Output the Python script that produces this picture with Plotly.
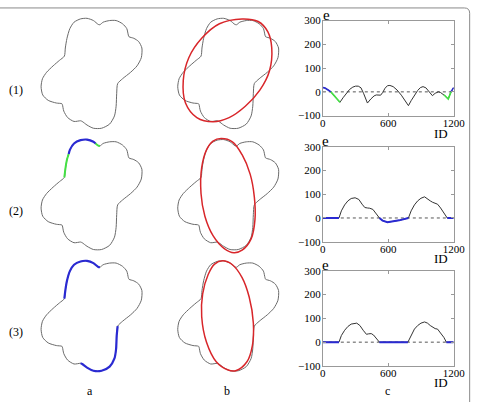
import plotly.graph_objects as go

W, H = 487, 402
FONT = "Liberation Serif"

# ---- blob outline (local panel units, y downward) ----
blob_x = [63.3, 64.3, 66, 69, 73.3, 80, 86.7, 93.3, 98.3, 100,
          103.3, 110, 116.7, 123.3, 127.7, 129.3, 130,
          135, 140, 143.3, 142.7, 138.3, 131.7, 123.3, 118.3,
          117.3, 116.7, 115, 110, 101.7, 93.3, 86.7, 81.7, 80,
          73.3, 66.7, 62.7, 61.3, 60.7,
          55, 46.7, 41, 39.3, 40.7, 45, 51.7, 58.3, 63.3]
blob_y = [51.7, 43.3, 33.3, 23.3, 16.7, 13.3, 12.7, 15, 19, 19.3,
          16.7, 15, 15, 18.3, 23.3, 30, 31.7,
          33.3, 36.7, 43.3, 53.3, 61.7, 68.3, 75, 80,
          90, 103.3, 113.3, 121.7, 126, 126, 122.7, 119, 118.3,
          119, 115, 108.3, 101.7, 100.7,
          100, 97.3, 91.7, 83.3, 75, 68.3, 61.7, 56, 51.7]

# row 2 highlighted pieces
r2_green1_x = [63.3, 64.3, 66, 67.8]
r2_green1_y = [51.7, 43.3, 33.3, 27.5]
r2_blue_x = [67.8, 69, 73.3, 80, 86.7, 93.3, 95.5]
r2_blue_y = [27.5, 23.3, 16.7, 13.3, 12.7, 15, 16.8]
r2_green2_x = [95.5, 98.3, 100]
r2_green2_y = [16.8, 19, 19.3]
# row 3 highlighted pieces
r3_blue1_x, r3_blue1_y = blob_x[0:10], blob_y[0:10]
r3_blue2_x, r3_blue2_y = blob_x[24:34], blob_y[24:34]

# ---- fitted ellipses (local panel units) ----
ell1_x = [105.7, 122.3, 132.3, 136.3, 134, 124, 109, 92.3, 75.7, 59, 47.3, 45, 50.7, 64, 82.3, 105.7]
ell1_y = [13.3, 16, 26.7, 43.3, 66.7, 86.7, 103.3, 115, 119.3, 115, 100, 76.7, 53.3, 33.3, 18.3, 13.3]
ell2_x = [84, 95.7, 105.7, 114, 118.3, 119, 115, 105.7, 97.3, 87.3, 75.7, 67.3, 63.3, 64, 69, 75.7, 84]
ell2_y = [11.7, 15, 28.3, 48.3, 71.7, 95, 115, 126.7, 129.3, 125, 111.7, 91.7, 68.3, 41.7, 23.3, 14.3, 11.7]
ell3_x = [85.7, 95.7, 105.7, 113, 117.3, 116.3, 110.7, 99, 90.7, 79, 69, 64, 65, 70.7, 77.3, 85.7]
ell3_y = [12.7, 16.7, 30, 50, 76.7, 100, 116.7, 126, 125, 116.7, 96.7, 70, 46.7, 26.7, 16, 12.7]

# ---- error curves e(ID) ----
e1_id = [0, 20, 45, 74, 110, 157, 185, 215, 245, 275, 300, 325, 350, 375, 409, 440, 470, 490, 515, 530,
         550, 570, 593, 615, 645, 680, 720, 755, 785, 810, 840, 870, 895, 919, 945, 975, 1005, 1030,
         1060, 1080, 1110, 1130, 1150, 1175, 1200]
e1_val = [18, 16, 9, 0, -20, -44, -25, -5, 10, 20, 24, 24, 17, -8, -47, -30, -17, -13, -12, -14,
          -2, 15, 26, 27, 22, 8, -14, -38, -58, -37, -14, 6, 18, 22, 17, 2, -16, -6,
          0, -3, -12, -20, -30, 0, 18]
e1_blue1_id, e1_blue1_val = [0, 20, 45, 74], [18, 16, 9, 0]
e1_green1_id, e1_green1_val = [74, 110, 157], [0, -20, -44]
e1_green2_id, e1_green2_val = [1110, 1130, 1150, 1175], [-12, -20, -30, 0]
e1_blue2_id, e1_blue2_val = [1175, 1200], [0, 18]

e2_id = [0, 148, 170, 200, 230, 260, 296, 330, 360, 385, 410, 430, 459, 480, 500, 519, 548, 593,
         700, 785, 810, 840, 870, 900, 933, 960, 985, 1007, 1030, 1052, 1080, 1110, 1141, 1200]
e2_val = [0, 0, 30, 55, 72, 82, 85, 78, 58, 44, 42, 41, 36, 22, 10, 0, -11, -18,
          -10, 0, 30, 55, 72, 83, 89, 82, 72, 66, 63, 58, 42, 22, 0, 0]
e2_blue1_id, e2_blue1_val = [0, 148], [0, 0]
e2_blue2_id, e2_blue2_val = [519, 548, 593, 700, 785], [0, -11, -18, -10, 0]
e2_blue3_id, e2_blue3_val = [1141, 1200], [0, 0]

e3_id = [0, 148, 170, 200, 230, 260, 311, 340, 370, 400, 420, 444, 465, 490, 519, 780, 810, 840,
         870, 900, 933, 960, 985, 1007, 1030, 1052, 1080, 1110, 1133, 1200]
e3_val = [0, 0, 28, 50, 66, 76, 80, 70, 50, 33, 35, 36, 30, 15, 0, 0, 30, 55,
          70, 80, 85, 80, 70, 63, 57, 55, 40, 20, 0, 0]
e3_blue1_id, e3_blue1_val = [0, 148], [0, 0]
e3_blue2_id, e3_blue2_val = [519, 780], [0, 0]
e3_blue3_id, e3_blue3_val = [1133, 1200], [0, 0]

x_ticks = [0, 600, 1200]
y_ticks = [-100, 0, 100, 200, 300]
row_labels = ["(1)", "(2)", "(3)"]
col_labels = ["a", "b", "c"]

GRAY = "#6a6a6a"
BLUE = "#2a2ad2"
GREEN = "#44e044"
RED = "#d8262a"
DARK = "#333333"

fig = go.Figure()


def add(x, y, ax, color, width, shape="linear", smoothing=None):
    line = dict(color=color, width=width, shape=shape)
    if smoothing is not None:
        line["smoothing"] = smoothing
    fig.add_trace(go.Scatter(x=x, y=y, mode="lines", line=line,
                             xaxis="x" + ax, yaxis="y" + ax,
                             hoverinfo="skip", showlegend=False))


def pid(r, c):
    n = 3 * r + c + 1
    return "" if n == 1 else str(n)


for r in range(3):
    for c in range(2):
        add(blob_x, blob_y, pid(r, c), GRAY, 1, "spline", 0.7)

add(r2_green1_x, r2_green1_y, pid(1, 0), GREEN, 2, "spline", 0.7)
add(r2_blue_x, r2_blue_y, pid(1, 0), BLUE, 2.2, "spline", 0.7)
add(r2_green2_x, r2_green2_y, pid(1, 0), GREEN, 2, "spline", 0.7)
add(r3_blue1_x, r3_blue1_y, pid(2, 0), BLUE, 2.2, "spline", 0.7)
add(r3_blue2_x, r3_blue2_y, pid(2, 0), BLUE, 2.2, "spline", 0.7)

add(ell1_x, ell1_y, pid(0, 1), RED, 1.5, "spline", 1.0)
add(ell2_x, ell2_y, pid(1, 1), RED, 1.5, "spline", 1.0)
add(ell3_x, ell3_y, pid(2, 1), RED, 1.5, "spline", 1.0)

add(e1_id, e1_val, pid(0, 2), DARK, 1)
add(e1_blue1_id, e1_blue1_val, pid(0, 2), BLUE, 1.6)
add(e1_green1_id, e1_green1_val, pid(0, 2), GREEN, 1.6)
add(e1_green2_id, e1_green2_val, pid(0, 2), GREEN, 1.6)
add(e1_blue2_id, e1_blue2_val, pid(0, 2), BLUE, 1.6)

add(e2_id, e2_val, pid(1, 2), DARK, 1)
for xs, ys in [(e2_blue1_id, e2_blue1_val), (e2_blue2_id, e2_blue2_val), (e2_blue3_id, e2_blue3_val)]:
    add(xs, ys, pid(1, 2), BLUE, 2)

add(e3_id, e3_val, pid(2, 2), DARK, 1)
for xs, ys in [(e3_blue1_id, e3_blue1_val), (e3_blue2_id, e3_blue2_val), (e3_blue3_id, e3_blue3_val)]:
    add(xs, ys, pid(2, 2), BLUE, 2)


def dom_x(p0, p1):
    return [p0 / W, p1 / W]


def dom_y(p0, p1):
    return [1 - p1 / H, 1 - p0 / H]


layout = dict(width=W, height=H, margin=dict(l=0, r=0, t=0, b=0),
              paper_bgcolor="white", plot_bgcolor="rgba(0,0,0,0)",
              showlegend=False, font=dict(family=FONT, color="black"))

row_top = [0, 125, 250]
col_left = [0, 141]
box_rows = [(15, 113), (145, 243), (273, 371)]

for r in range(3):
    for c in range(2):
        n = pid(r, c)
        layout["xaxis" + n] = dict(domain=dom_x(col_left[c], col_left[c] + 150), range=[0, 150],
                                   visible=False, fixedrange=True, anchor="y" + n)
        layout["yaxis" + n] = dict(domain=dom_y(row_top[r], row_top[r] + 132), range=[132, 0],
                                   visible=False, fixedrange=True, anchor="x" + n)
    n = pid(r, 2)
    axstyle = dict(showline=True, mirror="ticks", linecolor="#999999", linewidth=1,
                   ticks="inside", ticklen=3, tickcolor="#999999", showgrid=False,
                   zeroline=False, fixedrange=True, tickfont=dict(family=FONT, size=11, color="black"))
    layout["xaxis" + n] = dict(domain=dom_x(330, 465), range=[0, 1200], tickvals=x_ticks,
                               anchor="y" + n, ticklabelstandoff=-3, **axstyle)
    layout["yaxis" + n] = dict(domain=dom_y(*box_rows[r]), range=[-100, 300], tickvals=y_ticks,
                               anchor="x" + n, ticklabelstandoff=-1, **axstyle)

fig.update_layout(**layout)

for r in range(3):
    n = pid(r, 2)
    fig.add_shape(type="line", xref="x" + n, yref="y" + n, x0=0, x1=1200, y0=0, y1=0,
                  line=dict(color="#555555", width=1, dash="dot"), layer="below")

fig.add_shape(type="path", xref="paper", yref="paper",
              path=f"M {-0.02},{1 - 2 / H} L {476 / W},{1 - 2 / H} Q {481.5 / W},{1 - 2 / H} {481.5 / W},{1 - 7.5 / H} L {481.5 / W},{-0.02}",
              line=dict(color="#8a8a8a", width=1))


def ann(text, px, py, size):
    fig.add_annotation(text=text, x=px / W, y=1 - py / H, xref="paper", yref="paper",
                       showarrow=False, xanchor="center", yanchor="middle",
                       font=dict(family=FONT, size=size, color="black"))


e_pos = [(334, 9), (333, 139), (333, 267)]
id_pos = [(452, 131), (452, 260), (452, 388)]
row_pos = [87, 211, 336]
for r in range(3):
    ann("e", *e_pos[r], 15)
    ann("ID", *id_pos[r], 13)
    ann(row_labels[r], 13, row_pos[r], 12)

for lab, px in zip(col_labels, [90, 231, 397]):
    ann(lab, px, 397, 12)

fig.write_html("out.html")
